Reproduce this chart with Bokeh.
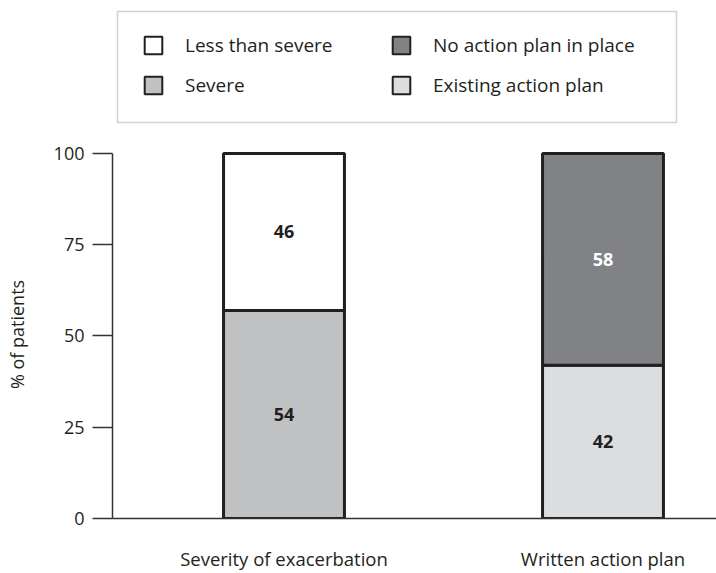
from bokeh.plotting import figure
from bokeh.layouts import column
from bokeh.models import ColumnDataSource, Range1d, FixedTicker, Legend, LegendItem, BoxAnnotation
from bokeh.core.properties import value
from bokeh.embed import file_html
from bokeh.resources import INLINE

# ---- data ----
categories = ["Severity of exacerbation", "Written action plan"]
seg_bar = [0, 0, 1, 1]                      # which bar each segment belongs to
seg_names = ["Severe", "Less than severe", "Existing action plan", "No action plan in place"]
seg_heights = [57, 43, 42, 58]              # drawn heights (% of patients), bottom segment first
seg_labels = ["54", "46", "42", "58"]       # printed values
y_ticks = [0, 25, 50, 75, 100]
legend_order = ["Less than severe", "Severe", "No action plan in place", "Existing action plan"]

# ---- styles ----
seg_colors = ["#c0c1c3", "#ffffff", "#dcdddf", "#808285"]
seg_text_colors = ["#231f20", "#231f20", "#231f20", "#ffffff"]
FONT = "Open Sans"
DARK = "#231f20"
AXIS = "#333333"

# stacking
bottoms, tops = [], []
acc = {}
for b, h in zip(seg_bar, seg_heights):
    lo = acc.get(b, 0)
    bottoms.append(lo)
    tops.append(lo + h)
    acc[b] = lo + h

# ---------- main chart ----------
p = figure(width=716, height=435, output_backend="svg", toolbar_location=None,
           x_range=Range1d(-0.5376, 1.3558), y_range=Range1d(0, 100.8),
           min_border_left=112, min_border_right=0, min_border_top=12, min_border_bottom=47)
p.outline_line_color = None
p.grid.grid_line_color = None

for i in range(len(seg_bar)):
    src = ColumnDataSource(dict(x=[seg_bar[i]], bottom=[bottoms[i]], top=[tops[i]]))
    p.vbar(x="x", bottom="bottom", top="top", width=0.379, source=src,
           fill_color=seg_colors[i], line_color=DARK, line_width=3)

lab_src = ColumnDataSource(dict(
    x=seg_bar,
    y=[(b + t) / 2 for b, t in zip(bottoms, tops)],
    text=seg_labels,
    color=seg_text_colors,
))
p.text(x="x", y="y", text="text", source=lab_src, text_color="color",
       text_align="center", text_baseline="middle",
       text_font=value(FONT), text_font_size="18px", text_font_style="bold")

xa = p.xaxis[0]
xa.ticker = FixedTicker(ticks=list(range(len(categories))))
xa.major_label_overrides = {i: c for i, c in enumerate(categories)}
xa.major_tick_line_color = None
xa.minor_tick_line_color = None
xa.axis_line_color = AXIS
xa.axis_line_width = 1.5
xa.major_label_text_font = FONT
xa.major_label_text_font_size = "18.5px"
xa.major_label_text_color = DARK
xa.major_label_standoff = 21

ya = p.yaxis[0]
ya.ticker = FixedTicker(ticks=y_ticks)
ya.bounds = (0, 100)
ya.minor_tick_line_color = None
ya.major_tick_out = 20
ya.major_tick_in = 0
ya.major_tick_line_color = AXIS
ya.major_tick_line_width = 1.5
ya.axis_line_color = AXIS
ya.axis_line_width = 1.5
ya.major_label_text_font = FONT
ya.major_label_text_font_size = "18px"
ya.major_label_text_color = DARK
ya.major_label_standoff = 8
ya.axis_label = "% of patients"
ya.axis_label_text_font = FONT
ya.axis_label_text_font_size = "18px"
ya.axis_label_text_font_style = "normal"
ya.axis_label_text_color = DARK
ya.axis_label_standoff = 22

# ---------- legend strip (frame aligned with the chart frame) ----------
# ranges chosen so that the (hidden) proxy bars sit underneath the legend box
lg = figure(width=716, height=138, output_backend="svg", toolbar_location=None,
            x_axis_type=None, y_axis_type=None,
            x_range=Range1d(-300, 304), y_range=Range1d(-20, 118), min_border=0)
lg.outline_line_color = None
lg.grid.grid_line_color = None
items = []
for n in legend_order:
    i = seg_names.index(n)
    src = ColumnDataSource(dict(x=[seg_bar[i]], bottom=[bottoms[i]], top=[tops[i]]))
    r = lg.vbar(x="x", bottom="bottom", top="top", width=0.379, source=src,
                fill_color=seg_colors[i], line_color=DARK, line_width=2)
    items.append(LegendItem(label=n, renderers=[r]))

# legend frame box
lg.add_layout(BoxAnnotation(left=-295, right=264, bottom=-4, top=107,
                            fill_color="white", fill_alpha=1.0,
                            line_color="#666666", line_width=1.5))

legend = Legend(
    items=items, location=(30, 40), orientation="vertical", nrows=2,
    padding=0, spacing=14, glyph_width=22, glyph_height=22, label_standoff=21,
    label_width=191, label_text_font=FONT, label_text_font_size="19px",
    label_text_color=DARK, border_line_color=None,
    background_fill_color="white", background_fill_alpha=0.0,
)
lg.add_layout(legend, "center")

layout = column(lg, p, spacing=0)
open("out.html", "w").write(file_html(layout, INLINE))
